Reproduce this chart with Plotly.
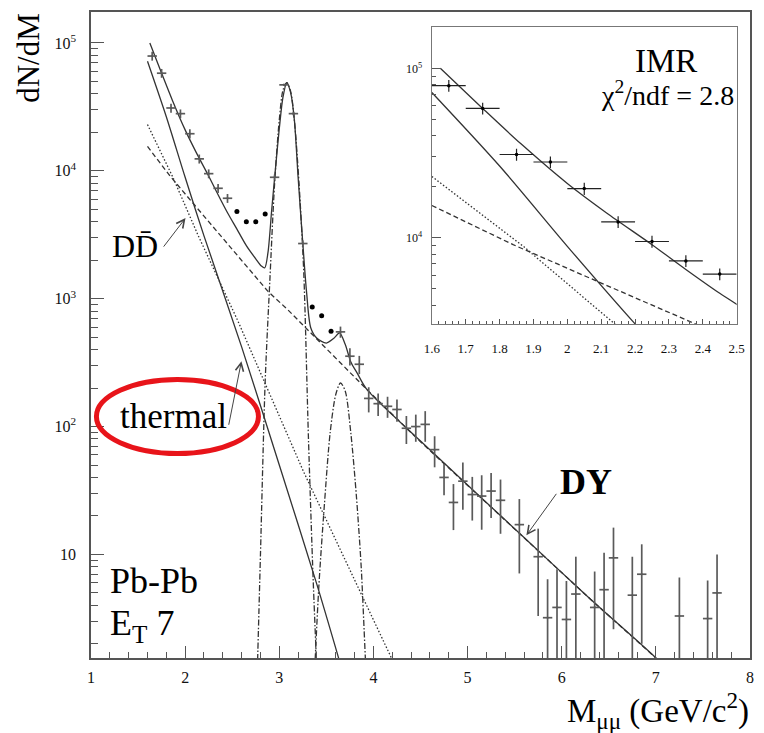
import math
import plotly.graph_objects as go

# dimuon invariant mass spectrum, Pb-Pb, E_T bin 7
mass = [1.65, 1.75, 1.85, 1.95, 2.05, 2.15, 2.25, 2.35, 2.45,
        2.95, 3.05, 3.15, 3.25,
        3.65, 3.75, 3.85, 3.95, 4.05, 4.15, 4.25, 4.35, 4.45, 4.55, 4.65,
        4.75, 4.85, 4.95, 5.05, 5.15, 5.25, 5.35, 5.55, 5.75, 5.85, 5.95,
        6.05, 6.15, 6.35, 6.45, 6.55, 6.75, 6.85, 7.25, 7.55, 7.65]
counts = [7.9e4, 5.8e4, 3.1e4, 2.8e4, 1.95e4, 1.24e4, 9.5e3, 7.3e3, 6.1e3,
          8.9e3, 4.7e4, 2.8e4, 2.7e3,
          550, 355, 307, 166, 151, 144, 136, 97, 100, 104, 66,
          40, 25.5, 37.4, 29.4, 28.6, 31.3, 26.5, 17.1, 9.6, 3.2, 3.85,
          3.1, 4.9, 3.85, 5.3, 9.4, 4.8, 7.0, 3.3, 3.15, 5.0]
errors = [6300, 4600, 2500, 2200, 1600, 1000, 760, 580, 490,
          450, 1000, 850, 160,
          55, 55, 50, 37, 30, 27, 27, 24, 24, 28, 18,
          11, 10, 15, 11, 13, 12, 12, 10, 6.3, 3.2, 3.8,
          3.1, 4.7, 3.5, 5.0, 6.8, 4.8, 5.0, 3.3, 3.1, 5.0]

# points left out of the fit (drawn as dots)
dot_mass = [2.55, 2.65, 2.75, 2.85, 3.35, 3.45, 3.55]
dot_counts = [4.8e3, 4.0e3, 4.0e3, 4.6e3, 860, 736, 556]

# fit components, sampled from the drawn curves
total_x = [1.625, 1.75, 1.864, 2.0, 2.116, 2.25, 2.35, 2.45, 2.55, 2.65, 2.75,
           2.81, 2.845, 2.88, 2.92, 2.96, 3.0, 3.04, 3.08, 3.12, 3.16, 3.2,
           3.25, 3.29, 3.335, 3.4, 3.5, 3.58, 3.64, 3.7, 3.76, 3.826, 3.93,
           4.5, 5.58, 6.3, 7.0, 7.05]
total_y = [1.0e5, 5.8e4, 3.57e4, 2.09e4, 1.40e4, 9.1e3, 6.5e3, 4.7e3, 3.5e3,
           2.6e3, 2.05e3, 1.8e3, 1.74e3, 2.3e3, 5.0e3, 1.05e4, 2.14e4, 3.8e4,
           4.9e4, 4.1e4, 2.5e4, 8.9e3, 2.7e3, 1.12e3, 590, 490, 450, 490, 540,
           440, 320, 263, 195, 77, 14, 4.5, 1.55, 1.4]

thermal_x = [1.6, 1.8, 2.0, 2.2, 2.6, 3.0, 3.4, 3.66]
thermal_y = [7.2e4, 2.65e4, 8.9e3, 3.1e3, 420, 50, 5.8, 1.3]

dd_x = [1.6, 1.87, 2.14, 2.56, 3.26, 4.19, 4.24]
dd_y = [2.3e4, 8.9e3, 3.1e3, 670, 44, 1.6, 1.3]

dy_x = [1.6, 1.84, 2.1, 2.37, 2.88, 3.09, 3.5, 3.93, 4.5, 5.58, 6.3, 7.0, 7.05]
dy_y = [1.55e4, 9.1e3, 5.4e3, 3.15e3, 1.14e3, 820, 407, 195, 76, 13.9, 4.5,
        1.55, 1.4]

jpsi_x = [2.76, 2.80, 2.85, 2.90, 2.95, 3.00, 3.04, 3.08, 3.12, 3.16, 3.21,
          3.26, 3.31, 3.36, 3.41]
jpsi_y = [0.8, 10, 224, 1400, 7.9e3, 2.5e4, 4.3e4, 4.9e4, 4.2e4, 2.5e4, 7.9e3,
          1.6e3, 80, 6.3, 0.8]

psi2_x = [3.37, 3.42, 3.48, 3.54, 3.60, 3.65, 3.70, 3.76, 3.82, 3.87, 3.92, 3.95]
psi2_y = [1.0, 5.6, 25, 89, 178, 219, 190, 89, 28, 8, 1.26, 0.5]

serif = '"Liberation Serif", "Times New Roman", serif'
ink = '#333333'

# plot area in pixels (margins below)
L, T, W, H = 91, 12, 667, 646


def px(x):
    return (x - L) / W


def py(y):
    return (T + H - y) / H


fig = go.Figure()

curves = [
    (dy_x, dy_y, '5px,3px', 'linear'),
    (dd_x, dd_y, '1.5px,2px', 'linear'),
    (thermal_x, thermal_y, 'solid', 'spline'),
    (jpsi_x, jpsi_y, '6px,2px,1.5px,2px', 'spline'),
    (psi2_x, psi2_y, '6px,2px,1.5px,2px', 'spline'),
    (total_x, total_y, 'solid', 'spline'),
]

for xa, ya in [('x', 'y'), ('x2', 'y2')]:
    for cx, cy, dash, shape in curves:
        fig.add_trace(go.Scatter(
            x=cx, y=cy, mode='lines', xaxis=xa, yaxis=ya,
            line=dict(color=ink, width=1.3, dash=dash, shape=shape, smoothing=0.8),
            showlegend=False, hoverinfo='skip'))

# main panel data
fig.add_trace(go.Scatter(
    x=mass, y=counts, mode='markers',
    marker=dict(size=2, color='#5a5a5a'),
    error_y=dict(type='data', array=errors, width=0, thickness=1.7, color='#5a5a5a'),
    error_x=dict(type='constant', value=0.05, width=0, thickness=1.7, color='#5a5a5a'),
    showlegend=False))
fig.add_trace(go.Scatter(
    x=dot_mass, y=dot_counts, mode='markers',
    marker=dict(size=5, color='black'), showlegend=False))

# inset data
fig.add_trace(go.Scatter(
    x=mass, y=counts, mode='markers', xaxis='x2', yaxis='y2',
    marker=dict(size=3.5, color='black'),
    error_y=dict(type='data', array=errors, width=0, thickness=1.2, color='#222'),
    error_x=dict(type='constant', value=0.05, width=0, thickness=1.2, color='#222'),
    showlegend=False))

main_minor = [d * 10 ** k for k in range(0, 6) for d in range(2, 10)]
inset_minor = [d * 10 ** k for k in range(3, 5) for d in range(2, 10)]

fig.update_layout(
    width=764, height=733,
    margin=dict(l=L, r=764 - L - W, t=T, b=733 - T - H),
    paper_bgcolor='white', plot_bgcolor='white',
    font=dict(family=serif, color='#111'),
    xaxis=dict(
        range=[1, 8], domain=[0, 1], tickmode='linear', tick0=1, dtick=1,
        ticks='inside', ticklen=12, tickwidth=1.2, tickcolor='#555',
        minor=dict(dtick=0.2, ticks='inside', ticklen=6, tickwidth=1.2, tickcolor='#555'),
        showline=True, linecolor='#555', linewidth=1.6, mirror=True,
        showgrid=False, zeroline=False, tickfont=dict(size=16),
        ticklabelstandoff=4),
    yaxis=dict(
        type='log', range=[0.19, 5.242], domain=[0, 1],
        tickmode='array', tickvals=[10, 100, 1e3, 1e4, 1e5],
        ticktext=['10', '10<sup>2</sup>', '10<sup>3</sup>', '10<sup>4</sup>', '10<sup>5</sup>'],
        ticks='inside', ticklen=13, tickwidth=1.2, tickcolor='#555',
        minor=dict(tickmode='array', tickvals=main_minor, ticks='inside',
                   ticklen=7, tickwidth=1.2, tickcolor='#555'),
        showline=True, linecolor='#555', linewidth=1.6, mirror=True,
        showgrid=False, zeroline=False, tickfont=dict(size=16),
        ticklabelstandoff=10),
    xaxis2=dict(
        range=[1.6, 2.5], domain=[px(436), px(744.5)], anchor='y2',
        tickmode='linear', tick0=1.6, dtick=0.1,
        ticks='inside', ticklen=5, tickwidth=1, tickcolor='#555',
        minor=dict(dtick=0.02, ticks='inside', ticklen=3, tickwidth=1, tickcolor='#555'),
        showline=True, linecolor='#777', linewidth=1.4, mirror=True,
        showgrid=False, zeroline=False, tickfont=dict(size=13),
        ticklabelstandoff=12),
    yaxis2=dict(
        type='log', range=[3.489, 5.244], domain=[py(324.3), py(27)], anchor='x2',
        tickmode='array', tickvals=[1e4, 1e5],
        ticktext=['10<sup>4</sup>', '10<sup>5</sup>'],
        ticks='inside', ticklen=9, tickwidth=1, tickcolor='#555',
        minor=dict(tickmode='array', tickvals=inset_minor, ticks='inside',
                   ticklen=4, tickwidth=1, tickcolor='#555'),
        showline=True, linecolor='#777', linewidth=1.4, mirror=True,
        showgrid=False, zeroline=False, tickfont=dict(size=12),
        ticklabelstandoff=6),
)

labels = [
    ('dN/dM', 27, 58, 31, 'center', -90),
    ('M<sub>μμ</sub> (GeV/c<sup>2</sup>)', 759, 710, 33, 'right', 0),
    ('DD\u0304', 136, 246, 32, 'center', 0),
    ('thermal', 175, 416, 35, 'center', 0),
    ('<b>DY</b>', 592, 482, 36, 'center', 0),
    ('Pb-Pb', 108, 581, 36, 'left', 0),
    ('E<sub>T</sub> 7', 108, 625, 36, 'left', 0),
    ('IMR', 673, 61, 33, 'center', 0),
    ('\u03c7<sup>2</sup>/ndf = 2.8', 674, 93, 28, 'center', 0),
]
for text, x, y, size, anchor, angle in labels:
    fig.add_annotation(
        text=text, xref='paper', yref='paper', x=px(x), y=py(y),
        xanchor=anchor, yanchor='middle', textangle=angle,
        showarrow=False, font=dict(family=serif, size=size, color='black'))

# arrows pointing at the components (log axis: y given as log10)
arrows = [(2.004, 4266, -23, 30), (2.598, 324, -13, 65), (5.625, 14.1, 31, -43)]
for x, y, ax, ay in arrows:
    fig.add_annotation(
        x=x, y=math.log10(y), xref='x', yref='y', ax=ax, ay=ay, text='',
        showarrow=True, arrowhead=5, arrowsize=1.6, arrowwidth=1, arrowcolor='#444')

# red ellipse around the thermal label
fig.add_shape(type='circle', xref='paper', yref='paper',
              x0=px(96.5), x1=px(260.5), y0=py(453.5), y1=py(379.5),
              line=dict(color='#e8141a', width=5))

fig.write_html("out.html", config={'displayModeBar': False},
               post_script="document.body.style.margin='0';document.body.style.overflow='hidden';")
